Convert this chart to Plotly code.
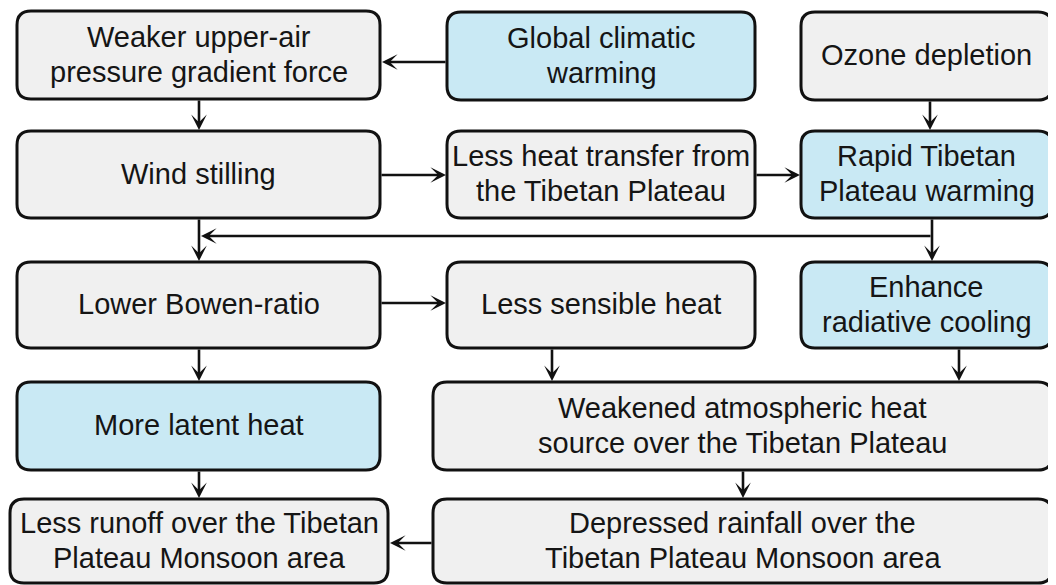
import plotly.graph_objects as go

# ---- content ----
labels = [
    "Weaker upper-air<br>pressure gradient force",
    "Global climatic<br>warming",
    "Ozone depletion",
    "Wind stilling",
    "Less heat transfer from<br>the Tibetan Plateau",
    "Rapid Tibetan<br>Plateau warming",
    "Lower Bowen-ratio",
    "Less sensible heat",
    "Enhance<br>radiative cooling",
    "More latent heat",
    "Weakened atmospheric heat<br>source over the Tibetan Plateau",
    "Less runoff over the Tibetan<br>Plateau Monsoon area",
    "Depressed rainfall over the<br>Tibetan Plateau Monsoon area",
]
highlighted = [False, True, False, False, False, True, False, False, True, True, False, False, False]

# links: (from index, to index)
links = [(1, 0), (0, 3), (2, 5), (3, 4), (4, 5), (3, 6), (5, 8),
         (6, 7), (6, 9), (7, 10), (8, 10), (9, 11), (10, 12), (12, 11)]

# ---- layout geometry (pixels in the page) ----
W, H = 1056, 585
OFF = 8  # page body margin
geom = [
    (17, 380, 11, 99), (447, 755, 12, 100), (801, 1052, 12, 100),
    (17, 380, 131, 218), (447, 755, 131, 218), (801, 1052, 131, 218),
    (17, 380, 262, 348), (447, 755, 262, 348), (801, 1052, 262, 348),
    (17, 380, 382, 470), (433, 1052, 382, 470),
    (10, 388, 499, 583), (433, 1052, 499, 583),
]
link_pos = [62, 199, 930, 175, 175, 199, 932, 303, 199, 552, 959, 199, 743, 543]
bus_y = 236
bus_from_x = 932
LINE_GAP = 35

GREY = "#f0f0f0"
BLUE = "#c9e9f4"
LINE = "#111111"
FONT = "Liberation Sans, Arial, sans-serif"


def rounded(x0, x1, y0, y1, r=14):
    return (f"M{x0+r},{y0} L{x1-r},{y0} Q{x1},{y0} {x1},{y0+r} "
            f"L{x1},{y1-r} Q{x1},{y1} {x1-r},{y1} L{x0+r},{y1} "
            f"Q{x0},{y1} {x0},{y1-r} L{x0},{y0+r} Q{x0},{y0} {x0+r},{y0} Z")


fig = go.Figure()
fig.add_trace(go.Scatter(x=[OFF, W], y=[OFF, H], mode="markers",
                         marker=dict(opacity=0), hoverinfo="skip", showlegend=False))

shapes = []
annotations = []
for lab, hl, (x0, x1, y0, y1) in zip(labels, highlighted, geom):
    shapes.append(dict(type="path", path=rounded(x0, x1, y0, y1), xref="x", yref="y",
                       fillcolor=BLUE if hl else GREY, line=dict(color=LINE, width=3),
                       layer="below"))
    lines = lab.split("<br>")
    cy = (y0 + y1) / 2 - 1
    n = len(lines)
    for i, ln in enumerate(lines):
        annotations.append(dict(x=(x0 + x1) / 2, y=cy + (i - (n - 1) / 2) * LINE_GAP,
                                xref="x", yref="y", text=ln, showarrow=False,
                                font=dict(family=FONT, size=29, color="#151515")))


def arrow(tx, ty, sx, sy):
    annotations.append(dict(x=tx, y=ty, ax=sx, ay=sy, xref="x", yref="y",
                            axref="x", ayref="y", text="", showarrow=True,
                            arrowhead=3, arrowsize=1.0, arrowwidth=2.6,
                            arrowcolor=LINE, standoff=0, startstandoff=0))


for (a, b), p in zip(links, link_pos):
    ax0, ax1, ay0, ay1 = geom[a]
    bx0, bx1, by0, by1 = geom[b]
    if by0 >= ay1:          # downward
        arrow(p, by0 - 1, p, ay1)
    elif bx0 >= ax1:        # rightward
        arrow(bx0 - 1, p, ax1, p)
    else:                   # leftward
        arrow(bx1 + 2, p, ax0, p)

# bus line from Rapid TP warming to the Wind-stilling connector
arrow(link_pos[5] + 2, bus_y, bus_from_x, bus_y)

fig.update_layout(
    width=W, height=H, margin=dict(l=0, r=0, t=0, b=0),
    paper_bgcolor="white", plot_bgcolor="white",
    xaxis=dict(range=[OFF, W + OFF], visible=False, fixedrange=True),
    yaxis=dict(range=[H + OFF, OFF], visible=False, fixedrange=True),
    shapes=shapes, annotations=annotations, showlegend=False,
)
fig.write_html("out.html")
